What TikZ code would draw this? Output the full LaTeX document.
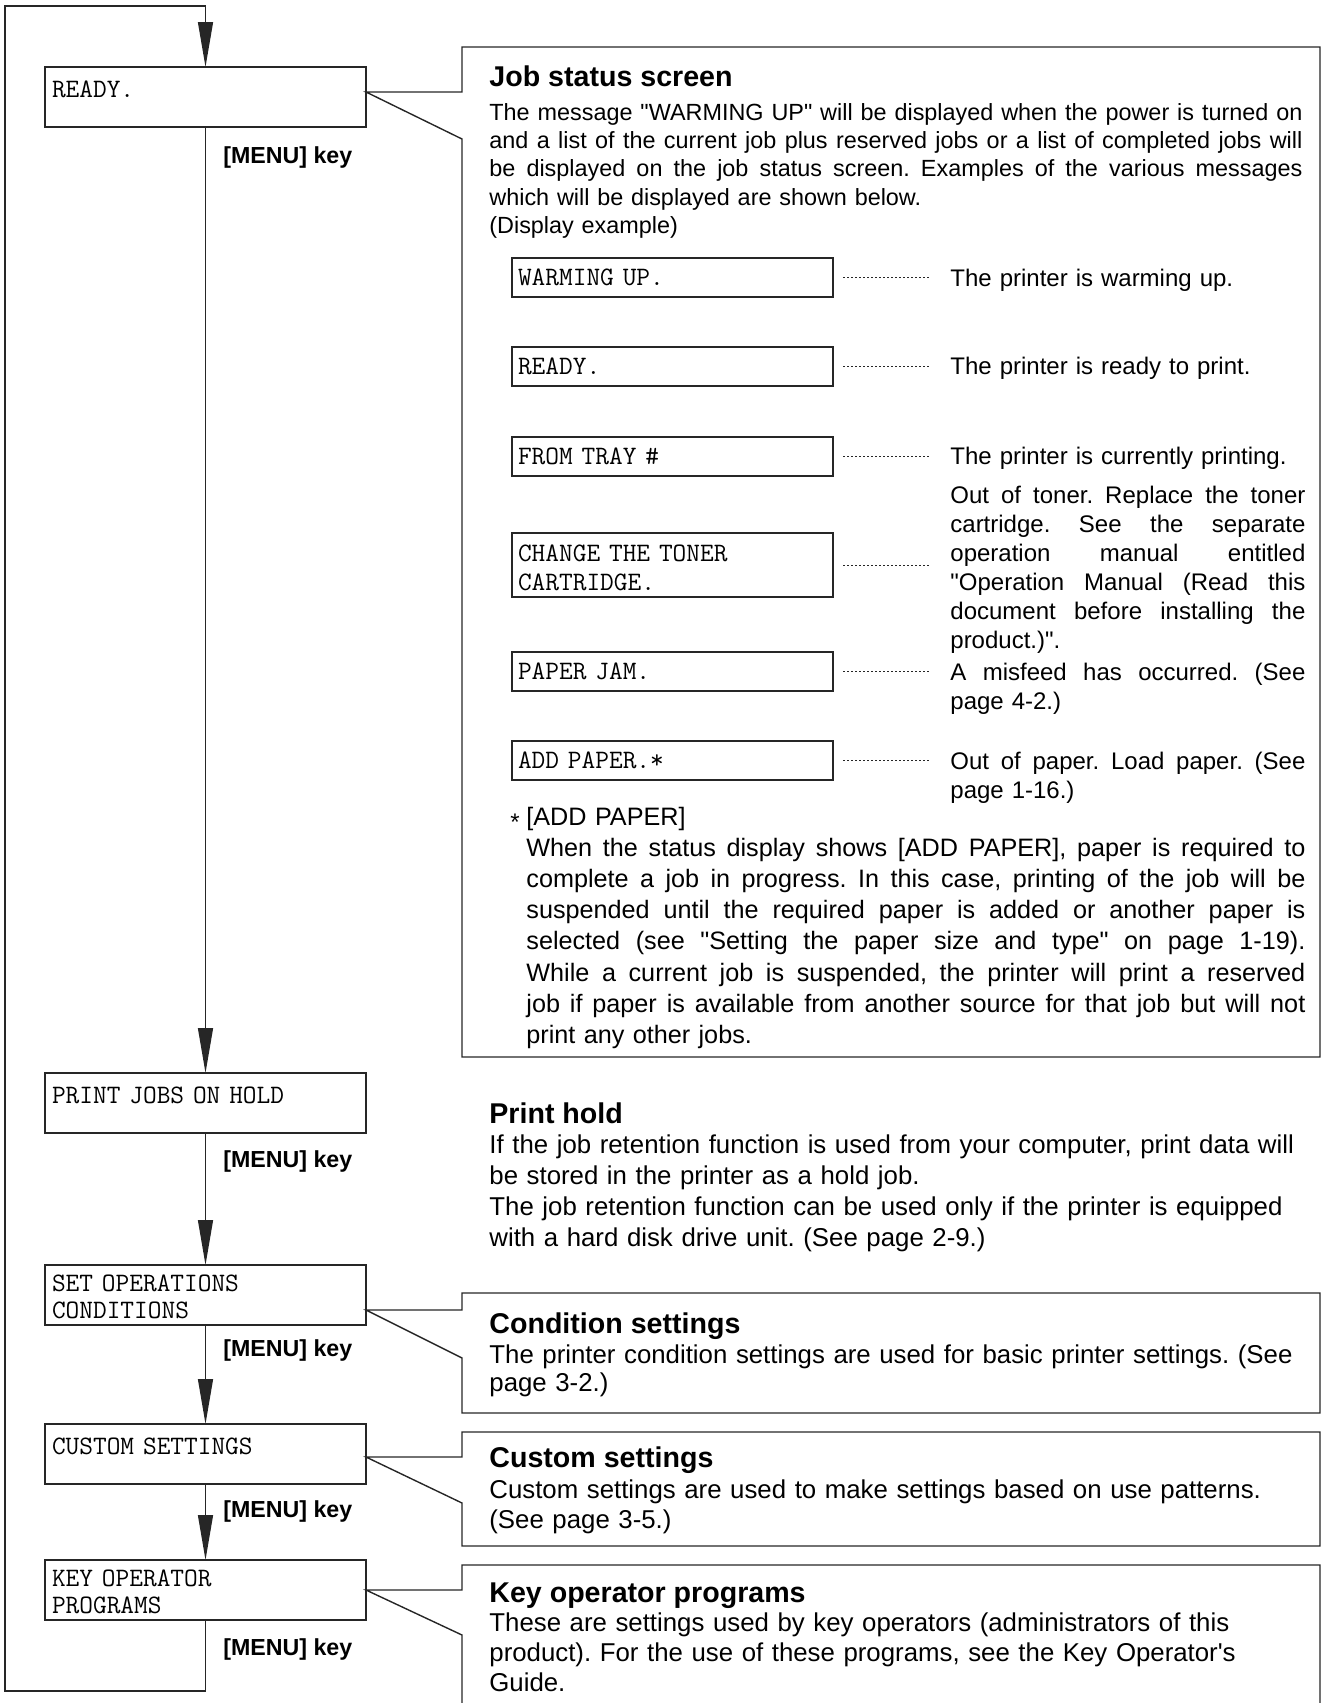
\documentclass[tikz,border=0pt]{standalone}
\usepackage{fontspec}
\setmainfont{Liberation Sans}[Ligatures=TeXOff]
\usetikzlibrary{positioning,arrows.meta}

\newcommand{\jline}[1]{\makebox[\hsize][s]{\spaceskip=.278em plus 1fil\relax\xspaceskip=\spaceskip\relax #1}}

\begin{document}
\frenchspacing
\begin{tikzpicture}[x=0.5pt,y=-0.5pt]
	\tikzstyle{screen}=[draw=black!85, line width=1.2pt, outer sep=0pt, anchor=north west, inner xsep=3.5pt, inner ysep=0pt, text width=153.5pt, align=left, text height=15pt, text depth=15pt, font=\ttfamily\fontsize{13.3}{13.5}\selectfont]
	\tikzstyle{screen2}=[screen, text height=13pt, text depth=17pt]
	\tikzstyle{lcd}=[draw=black!85, line width=0.6pt, outer sep=0pt, anchor=north west, inner xsep=3pt, inner ysep=0pt, text width=154.5pt, align=left, text height=13.75pt, text depth=5.75pt, font=\ttfamily\fontsize{13.3}{14.5}\selectfont]
	\tikzstyle{connect}=[-{Triangle[length=22.5pt,width=7.5pt]}, line width=0.7pt, draw=black!85]
	\tikzstyle{panel}=[draw=black!85, line width=0.7pt]
	\tikzstyle{leader}=[draw=black!85, line width=0.4pt, dash pattern=on 1.2pt off 0.8pt, shorten <=5pt, shorten >=10pt]
	\tikzstyle{keylbl}=[inner sep=0pt, font=\bfseries\fontsize{11.6}{13}\selectfont]
	\tikzstyle{title}=[inner sep=0pt, anchor=base west, font=\bfseries\fontsize{14.3}{17}\selectfont]
	\tikzstyle{note}=[inner sep=0pt, anchor=base west, text width=415pt, align=left, font=\fontsize{12.9}{15.5}\selectfont]
	\tikzstyle{desc}=[inner sep=0pt, anchor=base west, text width=177.5pt, align=left, font=\fontsize{12}{14.5}\selectfont]
	\useasboundingbox (0,0) rectangle (1323,1703);

	\node[screen] (ready) at (45,67) {READY.};
	\node[screen, below=473pt of ready] (hold) {PRINT JOBS ON HOLD};
	\node[screen2, below=66pt of hold] (setop) {SET OPERATIONS\\CONDITIONS};
	\node[screen, below=49.5pt of setop] (custom) {CUSTOM SETTINGS};
	\node[screen2, below=38pt of custom] (keyop) {KEY OPERATOR\\PROGRAMS};

	\node[keylbl] (k1) [below right=9.5pt and 8.75pt of ready.south] {[MENU] key};
	\node[keylbl] (k2) [below right=8.8pt and 8.75pt of hold.south] {[MENU] key};
	\node[keylbl] (k3) [below right=7pt and 8.75pt of setop.south] {[MENU] key};
	\node[keylbl] (k4) [below right=8.2pt and 8.75pt of custom.south] {[MENU] key};
	\node[keylbl] (k5) [below right=8.9pt and 8.75pt of keyop.south] {[MENU] key};

	\coordinate (loopbl) at (5,1691);
	\coordinate (looptl) at (5,6);
	\path
	(ready) edge [connect] (hold)
	(hold) edge [connect] (setop)
	(setop) edge [connect] (custom)
	(custom) edge [connect] (keyop);
	\draw[connect] (keyop.south) |- (loopbl) -- (looptl) -| (ready.north);

	\draw[panel] (462,47) -- (462,92) -- (ready.east |- 0,92) -- (462,139) -- (462,1057) -- (1320,1057) -- (1320,47) -- cycle;
	\draw[panel] (462,1293) -- (462,1310) -- (setop.east |- 0,1310) -- (462,1358) -- (462,1413) -- (1320,1413) -- (1320,1293) -- cycle;
	\draw[panel] (462,1432) -- (462,1457) -- (custom.east |- 0,1457) -- (462,1503) -- (462,1546) -- (1320,1546) -- (1320,1432) -- cycle;
	\draw[panel] (462,1703) -- (462,1635) -- (keyop.east |- 0,1590) -- (462,1590) -- (462,1565) -- (1320,1565) -- (1320,1703);

	\node[title] (t1) at (489,86) {Job status screen};
	\node[note, text width=406.5pt, font=\fontsize{11.7}{14.2}\selectfont] (b1) at (489,120) {\jline{The message "WARMING UP" will be displayed when the power is turned on}\\ \jline{and a list of the current job plus reserved jobs or a list of completed jobs will}\\ \jline{be displayed on the job status screen. Examples of the various messages}\\ which will be displayed are shown below.\\ (Display example)};

	\node[lcd] (warm) at (512,258) {WARMING UP.};
	\node[lcd] (rdy) at (512,347) {READY.};
	\node[lcd] (tray) at (512,437) {FROM TRAY \#};
	\node[lcd, text height=14pt, text depth=18pt] (toner) at (512,533) {CHANGE THE TONER\\CARTRIDGE.};
	\node[lcd] (jam) at (512,652) {PAPER JAM.};
	\node[lcd] (add) at (512,741) {ADD PAPER.*};

	\node[desc] (d1) at (950,286) {The printer is warming up.};
	\node[desc] (d2) at (950,374) {The printer is ready to print.};
	\node[desc] (d3) at (950,464) {The printer is currently printing.};
	\node[desc] (d4) at (950,503) {\jline{Out of toner. Replace the toner}\\ \jline{cartridge. See the separate}\\ \jline{operation manual entitled}\\ \jline{"Operation Manual (Read this}\\ \jline{document before installing the}\\ product.)".};
	\node[desc] (d5) at (950,680) {\jline{A misfeed has occurred. (See}\\ page 4-2.)};
	\node[desc] (d6) at (950,769) {\jline{Out of paper. Load paper. (See}\\ page 1-16.)};

	\draw[leader] (warm.east) -- (warm.east -| d1.west);
	\draw[leader] (rdy.east) -- (rdy.east -| d2.west);
	\draw[leader] (tray.east) -- (tray.east -| d3.west);
	\draw[leader] (toner.east) -- (toner.east -| d4.west);
	\draw[leader] (jam.east) -- (jam.east -| d5.west);
	\draw[leader] (add.east) -- (add.east -| d6.west);

	\node[inner sep=0pt, anchor=base west, font=\fontsize{12}{14}\selectfont] (star) at (510,830) {*};
	\node[note, text width=389.5pt, font=\fontsize{12.6}{15.6}\selectfont] (fn) at (526,825) {[ADD PAPER]\\ \jline{When the status display shows [ADD PAPER], paper is required to}\\ \jline{complete a job in progress. In this case, printing of the job will be}\\ \jline{suspended until the required paper is added or another paper is}\\ \jline{selected (see "Setting the paper size and type" on page 1-19).}\\ \jline{While a current job is suspended, the printer will print a reserved}\\ \jline{job if paper is available from another source for that job but will not}\\ print any other jobs.};

	\node[title] (t2) at (489,1123) {Print hold};
	\node[note] (b2) at (489,1153) {If the job retention function is used from your computer, print data will\\ be stored in the printer as a hold job.\\ The job retention function can be used only if the printer is equipped\\ with a hard disk drive unit. (See page 2-9.)};

	\node[title] (t3) at (489,1333) {Condition settings};
	\node[note, font=\fontsize{12.9}{14.1}\selectfont] (b3) at (489,1363) {The printer condition settings are used for basic printer settings. (See\\ page 3-2.)};

	\node[title] (t4) at (489,1467) {Custom settings};
	\node[note, font=\fontsize{12.9}{15}\selectfont] (b4) at (489,1498) {Custom settings are used to make settings based on use patterns.\\ (See page 3-5.)};

	\node[title] (t5) at (489,1602) {Key operator programs};
	\node[note, font=\fontsize{12.9}{15}\selectfont] (b5) at (489,1631) {These are settings used by key operators (administrators of this\\ product). For the use of these programs, see the Key Operator's\\ Guide.};
\end{tikzpicture}
\end{document}
